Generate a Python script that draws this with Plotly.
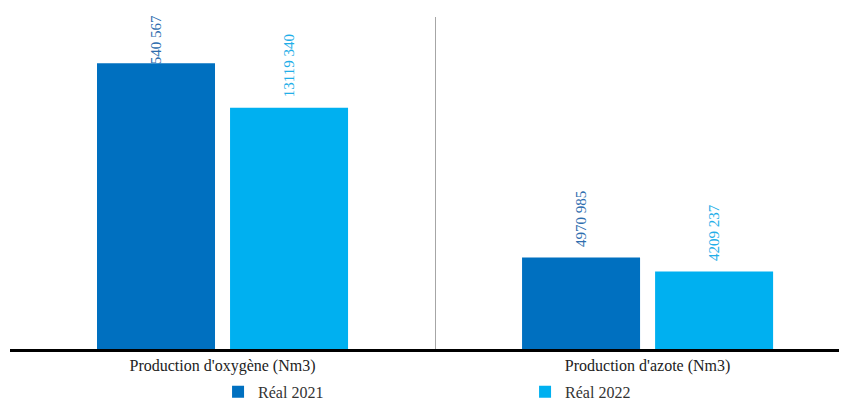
import plotly.graph_objects as go

categories = ["Production d'oxygène (Nm3)", "Production d'azote (Nm3)"]
real_2021 = [15540567, 4970985]
real_2022 = [13119340, 4209237]
labels_2021 = ["15 540 567", "4970 985"]
labels_2022 = ["13119 340", "4209 237"]

FONT = "Liberation Serif, Times New Roman, serif"
PAD = "\u00a0\u00a0"
C2021, C2022 = "#0070C0", "#00B0F0"
T2021, T2022 = "#2E6DAE", "#22AEE8"

BARGAP, GROUPGAP = 0.374, 0.113
CAT_PX = 425  # pixel width of one category on the x axis

fig = go.Figure()
fig.add_trace(go.Bar(
    name="Réal 2021", x=categories, y=real_2021,
    marker=dict(color=C2021, line=dict(width=0)),
    text=labels_2021, textposition="outside", textangle=-90,
    texttemplate=["", PAD + "%{text}"],
    textfont=dict(family=FONT, size=15, color=T2021),
    cliponaxis=False, constraintext="none",
))
fig.add_trace(go.Bar(
    name="Réal 2022", x=categories, y=real_2022,
    marker=dict(color=C2022, line=dict(width=0)),
    text=labels_2022, textposition="outside", textangle=-90,
    texttemplate=PAD + "%{text}",
    textfont=dict(family=FONT, size=15, color=T2022),
    cliponaxis=False, constraintext="none",
))

# The first label does not fit above its bar: it is pushed down against the
# top of the chart, so its start sits on the bar (same colour as the bar).
head, tail = labels_2021[0].split(" ", 1)
slot_px = CAT_PX * (1 - BARGAP) / 2
fig.add_annotation(
    x=categories[0], y=1, xref="x", yref="paper",
    xshift=-slot_px / 2, yshift=4,
    xanchor="center", yanchor="top", textangle=-90, showarrow=False,
    text=f"<span style='color:{C2021}'>{head} </span>{tail}",
    font=dict(family=FONT, size=15, color=T2021),
)

fig.update_layout(
    width=847, height=401,
    margin=dict(l=2, r=0, t=9, b=60, autoexpand=False),
    paper_bgcolor="white", plot_bgcolor="white",
    barmode="group", bargap=BARGAP, bargroupgap=GROUPGAP,
    font=dict(family=FONT, size=16, color="#222222"),
    showlegend=True,
    legend=dict(
        orientation="h", x=0.248, xref="container", xanchor="left",
        y=0.043, yref="container", yanchor="middle",
        entrywidth=262, entrywidthmode="pixels",
        font=dict(family=FONT, size=16, color="#333333"),
        itemwidth=30, bgcolor="rgba(0,0,0,0)",
    ),
    xaxis=dict(
        range=[-0.5, 1.488], tickson="boundaries", showgrid=True,
        gridcolor="#A6A6A6", gridwidth=1, automargin=False,
        showline=True, linecolor="black", linewidth=3,
        ticks="", tickfont=dict(family=FONT, size=16, color="#222222"),
        zeroline=False,
    ),
    yaxis=dict(
        range=[0, 18.05e6], showgrid=False, showticklabels=False,
        zeroline=False, showline=False, ticks="", automargin=False,
    ),
)

fig.write_html("out.html")
